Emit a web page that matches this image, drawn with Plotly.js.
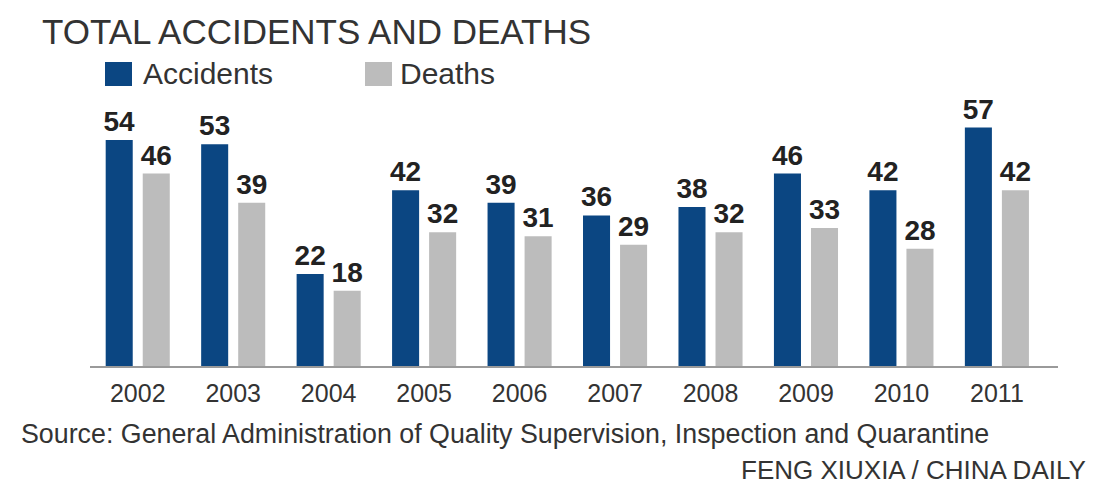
<!DOCTYPE html>
<html>
<head>
<meta charset="utf-8">
<script src="https://cdn.plot.ly/plotly-3.0.1.min.js"></script>
<style>
html,body{margin:0;padding:0;background:#fff;}
#chart{width:1094px;height:484px;}
</style>
</head>
<body>
<div id="chart"></div>
<script>
const years = ["2002","2003","2004","2005","2006","2007","2008","2009","2010","2011"];
const accidents = [54, 53, 22, 42, 39, 36, 38, 46, 42, 57];
const deaths = [46, 39, 18, 32, 31, 29, 32, 33, 28, 42];
const seriesNames = ["Accidents", "Deaths"];
const titleText = "TOTAL ACCIDENTS AND DEATHS";
const sourceText = "Source: General Administration of Quality Supervision, Inspection and Quarantine";
const creditText = "FENG XIUXIA / CHINA DAILY";

const W = 1094, H = 484;
const M = {l: 90, r: 36, t: 115, b: 118};
const PW = W - M.l - M.r, PH = H - M.t - M.b;
const px = x => (x - M.l) / PW;
const py = y => (H - M.b - y) / PH;

const BLUE = "#0b4682", GRAY = "#bcbcbc";
const FONT = "Liberation Sans, Arial, sans-serif";

const labelFont = {family: FONT, size: 28, color: "#222", weight: "bold"};

const traces = [
  {type: "bar", name: seriesNames[0], x: years, y: accidents, marker: {color: BLUE},
   text: accidents.map(String), textposition: "outside", constraintext: "none", textfont: labelFont, cliponaxis: false, hoverinfo: "skip"},
  {type: "bar", name: seriesNames[1], x: years, y: deaths, marker: {color: GRAY},
   text: deaths.map(String), textposition: "outside", constraintext: "none", textfont: labelFont, cliponaxis: false, hoverinfo: "skip"}
];

const layout = {
  width: W, height: H,
  margin: M,
  paper_bgcolor: "#fff", plot_bgcolor: "#fff",
  showlegend: false,
  barmode: "group",
  bargap: 0.224,
  bargroupgap: 0.27,
  font: {family: FONT, color: "#333"},
  xaxis: {type: "category", range: [-0.5, 9.64], showline: true, linecolor: "#9a9a9a", linewidth: 2,
          ticks: "", tickfont: {family: FONT, size: 25, color: "#333"}, ticklabelstandoff: 4,
          showgrid: false, zeroline: false, fixedrange: true},
  yaxis: {range: [0, 60], visible: false, showgrid: false, zeroline: false, fixedrange: true},
  shapes: [
    {type: "rect", xref: "paper", yref: "paper", x0: px(105), x1: px(132), y0: py(86), y1: py(62), fillcolor: BLUE, line: {width: 0}},
    {type: "rect", xref: "paper", yref: "paper", x0: px(365), x1: px(392), y0: py(86), y1: py(62), fillcolor: GRAY, line: {width: 0}}
  ],
  annotations: [
    {xref: "paper", yref: "paper", x: px(40), y: py(31.5), xanchor: "left", yanchor: "middle", showarrow: false,
     text: titleText, font: {family: FONT, size: 35, color: "#333"}},
    {xref: "paper", yref: "paper", x: px(141), y: py(74), xanchor: "left", yanchor: "middle", showarrow: false,
     text: seriesNames[0], font: {family: FONT, size: 30, color: "#333"}},
    {xref: "paper", yref: "paper", x: px(398), y: py(74), xanchor: "left", yanchor: "middle", showarrow: false,
     text: seriesNames[1], font: {family: FONT, size: 30, color: "#333"}},
    {xref: "paper", yref: "paper", x: px(19), y: py(434), xanchor: "left", yanchor: "middle", showarrow: false,
     text: sourceText, font: {family: FONT, size: 26.8, color: "#333"}},
    {xref: "paper", yref: "paper", x: px(1088), y: py(470), xanchor: "right", yanchor: "middle", showarrow: false,
     text: creditText, font: {family: FONT, size: 26, color: "#333"}}
  ]
};

Plotly.newPlot("chart", traces, layout, {displayModeBar: false, staticPlot: true});
</script>
</body>
</html>
